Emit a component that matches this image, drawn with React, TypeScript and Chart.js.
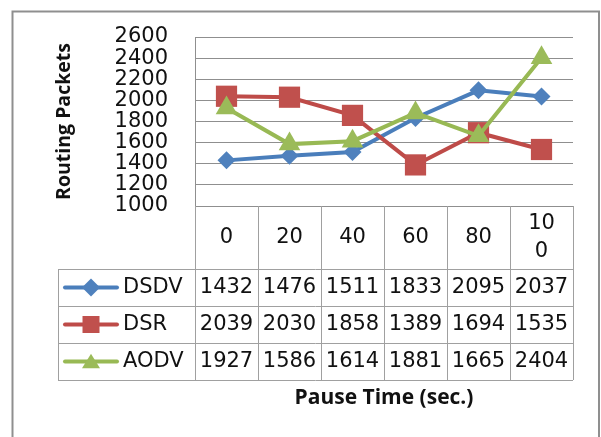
import { useEffect, useRef } from 'react';
import { Chart, registerables } from 'chart.js';

Chart.register(...registerables);

const categories = ['0', '20', '40', '60', '80', '100'];
const seriesNames = ['DSDV', 'DSR', 'AODV'];
const dsdv = [1432, 1476, 1511, 1833, 2095, 2037];
const dsr = [2039, 2030, 1858, 1389, 1694, 1535];
const aodv = [1927, 1586, 1614, 1881, 1665, 2404];
const yMin = 1000;
const yMax = 2600;
const yStep = 200;
const yTitle = 'Routing Packets';
const xTitle = 'Pause Time (sec.)';

const colors = ['#4A7EBB', '#BE4B48', '#98B954'];
const fills = ['#4F81BD', '#C0504D', '#9BBB59'];
const shapes = ['diamond', 'square', 'triangle'];

const FONT = '"DejaVu Sans", sans-serif';
const TITLE_FONT = '"Open Sans", sans-serif';
const GRID = '#8f8f8f';
const TABLE = '#a0a0a0';
const TEXT = '#111';

function drawShape(ctx: CanvasRenderingContext2D, shape: string, x: number, y: number, s: number, color: string) {
  ctx.save();
  ctx.fillStyle = color;
  ctx.beginPath();
  if (shape === 'diamond') {
    ctx.moveTo(x, y - s);
    ctx.lineTo(x + s, y);
    ctx.lineTo(x, y + s);
    ctx.lineTo(x - s, y);
  } else if (shape === 'square') {
    ctx.rect(x - s, y - s, 2 * s, 2 * s);
  } else {
    const h = s * 1.5;
    ctx.moveTo(x, y - h / 2 - 1);
    ctx.lineTo(x + s, y + h / 2);
    ctx.lineTo(x - s, y + h / 2);
  }
  ctx.closePath();
  ctx.fill();
  ctx.restore();
}

const tablePlugin = {
  id: 'tablePlugin',
  beforeDraw(chart: any) {
    const ctx = chart.ctx as CanvasRenderingContext2D;
    ctx.save();
    ctx.fillStyle = '#fff';
    ctx.fillRect(0, 0, chart.width, chart.height);
    ctx.strokeStyle = '#8f8f8f';
    ctx.lineWidth = 2;
    ctx.beginPath();
    ctx.moveTo(12.5, chart.height + 5);
    ctx.lineTo(12.5, 11.5);
    ctx.lineTo(599, 11.5);
    ctx.lineTo(599, chart.height + 5);
    ctx.stroke();
    ctx.restore();
  },
  afterDraw(chart: any) {
    const ctx = chart.ctx as CanvasRenderingContext2D;
    const area = chart.chartArea;
    const xs = chart.scales.x;
    const n = categories.length;
    const step = (area.right - area.left) / n;
    const top = area.bottom;
    const headerBottom = top + 63;
    const rowH = 37;
    const rows = [headerBottom, headerBottom + rowH, headerBottom + 2 * rowH, headerBottom + 3 * rowH];
    const legendLeft = 58;
    const bottom = rows[3];

    ctx.save();
    ctx.strokeStyle = TABLE;
    ctx.lineWidth = 1;
    ctx.beginPath();
    for (let i = 0; i <= n; i++) {
      const x = Math.round(area.left + i * step) + 0.5;
      ctx.moveTo(x, top);
      ctx.lineTo(x, bottom);
    }
    ctx.moveTo(legendLeft + 0.5, headerBottom);
    ctx.lineTo(legendLeft + 0.5, bottom);
    for (const r of rows) {
      ctx.moveTo(legendLeft, Math.round(r) + 0.5);
      ctx.lineTo(area.right, Math.round(r) + 0.5);
    }
    ctx.stroke();

    // header labels (Excel wraps the 3-digit label)
    ctx.fillStyle = TEXT;
    ctx.font = `21px ${FONT}`;
    ctx.textAlign = 'center';
    ctx.textBaseline = 'middle';
    const headerMid = (top + headerBottom) / 2;
    categories.forEach((c, i) => {
      const x = xs.getPixelForValue(i);
      const lines = c.length > 2 ? [c.slice(0, 2), c.slice(2)] : [c];
      const lh = 28;
      lines.forEach((ln, j) => {
        ctx.fillText(ln, x, headerMid + (j - (lines.length - 1) / 2) * lh);
      });
    });

    const data = [dsdv, dsr, aodv];
    data.forEach((vals, r) => {
      const cy = rows[r] + rowH / 2;
      vals.forEach((v, i) => {
        ctx.fillStyle = TEXT;
        ctx.textAlign = 'center';
        ctx.fillText(String(v), xs.getPixelForValue(i), cy);
      });
      ctx.strokeStyle = colors[r];
      ctx.lineWidth = 4;
      ctx.lineCap = 'round';
      ctx.beginPath();
      ctx.moveTo(65, cy);
      ctx.lineTo(117, cy);
      ctx.stroke();
      const sz = shapes[r] === 'diamond' ? 9 : shapes[r] === 'square' ? 8.5 : 9;
      drawShape(ctx, shapes[r], 91, cy, sz, fills[r]);
      ctx.fillStyle = TEXT;
      ctx.textAlign = 'left';
      ctx.fillText(seriesNames[r], 123, cy);
    });

    ctx.fillStyle = TEXT;
    ctx.textAlign = 'center';
    ctx.font = `bold 21px ${TITLE_FONT}`;
    ctx.fillText(xTitle, (area.left + area.right) / 2, 398);

    ctx.save();
    ctx.translate(64, (area.top + area.bottom) / 2);
    ctx.rotate(-Math.PI / 2);
    ctx.font = `bold 19.5px ${TITLE_FONT}`;
    ctx.fillText(yTitle, 0, 0);
    ctx.restore();

    ctx.restore();
  },
};

export default function App() {
  const ref = useRef<HTMLCanvasElement>(null);
  useEffect(() => {
    const canvas = ref.current!;
    const series = [dsdv, dsr, aodv];
    const pointStyles = ['rectRot', 'rect', 'triangle'];
    const radii = [9, 15, 12.5];
    const chart = new Chart(canvas, {
      type: 'line',
      data: {
        labels: categories,
        datasets: series.map((vals, i) => ({
          label: seriesNames[i],
          data: vals,
          borderColor: colors[i],
          backgroundColor: fills[i],
          borderWidth: 4,
          tension: 0,
          pointStyle: pointStyles[i],
          pointRadius: radii[i],
          pointBackgroundColor: fills[i],
          pointBorderColor: fills[i],
          pointBorderWidth: 0,
          order: 3 - i,
        })),
      },
      options: {
        responsive: false,
        animation: false,
        layout: { padding: { left: 0, top: 37, right: 28, bottom: 231 } },
        plugins: { legend: { display: false }, tooltip: { enabled: false } },
        scales: {
          x: { type: 'category', offset: true, display: false },
          y: {
            min: yMin,
            max: yMax,
            ticks: {
              stepSize: yStep,
              autoSkip: false,
              padding: 27,
              color: TEXT,
              font: { family: FONT, size: 21 },
              callback: (v: any) => String(v),
            },
            grid: { color: GRID, lineWidth: 1, drawTicks: false },
            border: { display: true, color: GRID, width: 1 },
            afterFit: (scale: any) => {
              scale.width = 195;
              scale.paddingTop = 0;
              scale.paddingBottom = 0;
            },
          },
        },
      },
      plugins: [tablePlugin],
    } as any);
    return () => chart.destroy();
  }, []);
  return (
    <div style={{ position: 'fixed', left: 0, top: 0, width: 601, height: 437, background: '#fff' }}>
      <canvas ref={ref} width={601} height={437} style={{ width: 601, height: 437, display: 'block' }} />
    </div>
  );
}
